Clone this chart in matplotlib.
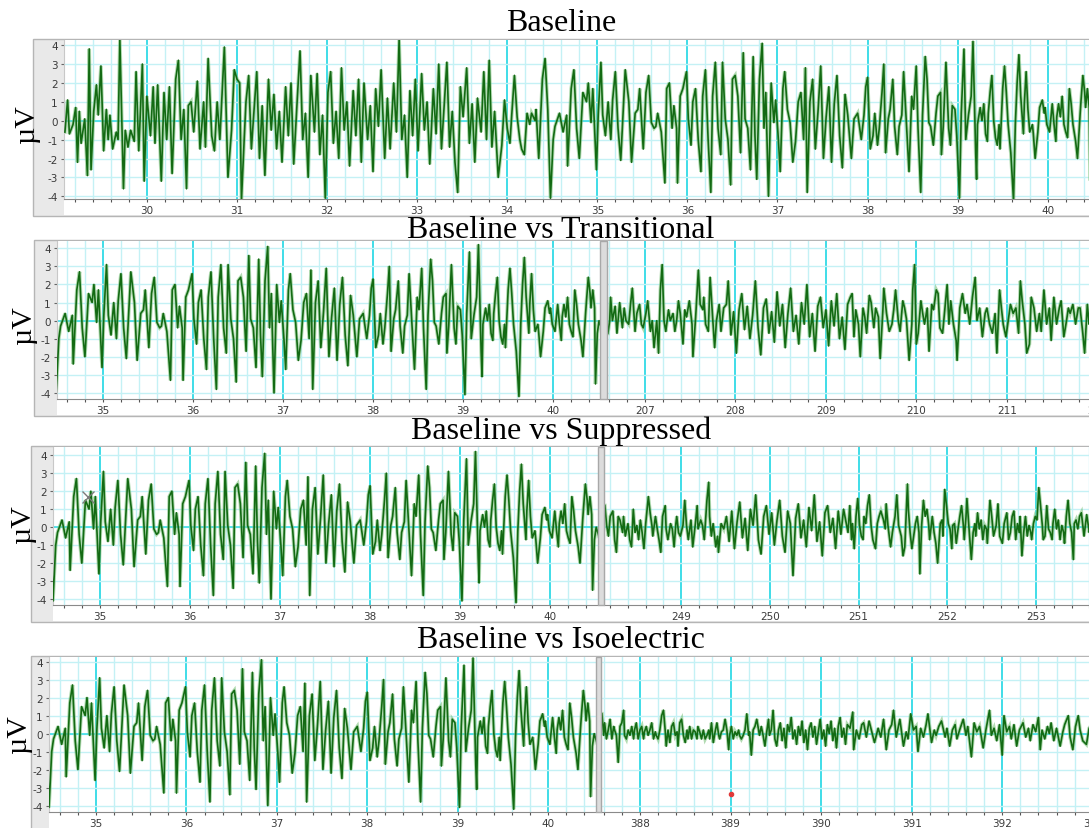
import numpy as np
import matplotlib.pyplot as plt
from matplotlib.patches import Rectangle
from matplotlib.ticker import MultipleLocator

plt.rcParams['axes.unicode_minus'] = False

# EEG traces (time in s, amplitude in uV), read as peaks / troughs
baseline = [
    (29.09, -0.6), (29.12, 1.1), (29.14, -0.7), (29.18, -0.2), (29.21, 0.7), (29.23, -2.2),
    (29.25, 0.5), (29.27, -1.2), (29.31, 0.1), (29.34, -2.9), (29.36, 3.8), (29.38, -2.6),
    (29.41, 0.5), (29.44, 1.9), (29.46, 0.3), (29.49, 2.9), (29.52, -1.6), (29.55, 0.6),
    (29.57, -1.0), (29.59, 0.3), (29.62, -1.5), (29.66, -0.6), (29.68, -1.0), (29.70, 4.3),
    (29.74, -3.6), (29.76, -0.5), (29.79, -1.4), (29.82, -0.5), (29.86, -1.1), (29.88, 2.6),
    (29.91, -1.6), (29.95, 3.0), (29.97, -3.2), (30.00, 1.3), (30.04, -0.8), (30.07, 1.8),
    (30.09, -1.2), (30.12, 1.9), (30.16, -3.2), (30.19, 1.5), (30.22, -1.0), (30.25, 1.8),
    (30.28, -2.8), (30.32, 2.2), (30.35, 3.2), (30.38, -1.0), (30.41, 0.6), (30.44, -3.6),
    (30.46, 0.8), (30.49, 1.0), (30.52, -0.6), (30.56, 2.1), (30.59, -1.5), (30.63, 1.0),
    (30.65, -1.4), (30.68, 3.3), (30.72, -0.8), (30.75, -1.6), (30.78, 1.0), (30.81, -1.0),
    (30.86, 3.9), (30.90, -3.0), (30.94, -0.5), (30.97, 2.7), (31.00, 2.2), (31.03, 2.0),
    (31.05, -4.2), (31.08, -1.0), (31.10, 1.0), (31.13, 2.4), (31.16, -1.5), (31.19, 0.6),
    (31.22, 2.6), (31.25, -2.0), (31.28, 0.8), (31.31, -2.9), (31.35, 2.2), (31.38, -0.5),
    (31.41, 1.4), (31.44, -1.5), (31.47, 0.5), (31.50, -2.2), (31.54, 1.8), (31.57, -0.8),
    (31.60, 2.0), (31.63, -2.3), (31.67, 1.2), (31.70, 3.7), (31.73, -1.0), (31.76, 0.4),
    (31.79, -3.0), (31.82, 2.4), (31.86, -0.6), (31.89, 2.5), (31.92, -1.8), (31.95, 0.3),
    (31.98, -4.1), (32.01, 1.5), (32.04, 2.6), (32.07, -1.2), (32.10, 0.5), (32.13, -2.0),
    (32.16, 2.8), (32.19, -0.5), (32.22, 1.0), (32.25, -2.4), (32.29, 1.6), (32.32, -0.8),
    (32.35, 2.2), (32.38, -2.2), (32.41, 2.0), (32.45, -1.0), (32.48, 0.8), (32.51, -2.7),
    (32.54, 1.7), (32.57, -0.3), (32.60, 2.7), (32.64, -2.0), (32.67, 1.2), (32.70, -1.5),
    (32.74, 2.0), (32.77, -0.6), (32.80, 4.3), (32.83, -1.0), (32.86, 0.3), (32.89, -3.0),
    (32.92, 1.6), (32.95, -0.8), (32.98, 2.2), (33.01, -1.6), (33.05, 2.5), (33.08, -0.5),
    (33.11, 1.0), (33.14, -2.3), (33.18, 1.7), (33.21, -0.7), (33.24, 3.0), (33.27, -1.5),
    (33.30, 0.8), (33.33, 3.1), (33.36, -1.4), (33.39, 0.5), (33.42, -2.2), (33.45, -3.8),
    (33.48, 1.8), (33.51, 0.2), (33.55, 2.8), (33.58, -1.2), (33.61, 0.9), (33.64, -2.2),
    (33.67, 1.2), (33.71, -0.6), (33.74, 2.6), (33.77, -1.0), (33.80, 3.2), (33.83, -1.4),
    (33.86, 0.5), (33.90, -3.0), (33.94, -1.3), (33.97, 1.1), (34.00, -0.4), (34.03, -1.2),
    (34.05, 0.3), (34.08, 2.4), (34.11, 0.2), (34.14, -1.0), (34.16, -1.5), (34.19, -1.8),
    (34.22, 0.4), (34.25, -0.2), (34.27, 0.4), (34.31, 0.0), (34.32, 0.6), (34.35, -2.0),
    (34.39, 2.2), (34.42, 3.3), (34.45, 0.6), (34.48, -4.1), (34.51, -1.0), (34.53, -0.3),
    (34.58, 0.4), (34.62, -0.6), (34.66, 0.3), (34.67, -2.4), (34.71, 1.7), (34.74, 2.7),
    (34.77, -0.4), (34.80, -2.0), (34.84, 1.5), (34.88, 1.0), (34.90, 2.0), (34.93, -0.1),
    (34.95, 1.7), (34.99, -2.6), (35.01, 0.3), (35.04, 3.1), (35.06, 0.3), (35.09, -0.8),
    (35.12, 1.0), (35.15, -1.0), (35.17, 1.1), (35.20, 2.6), (35.23, -0.4), (35.26, -2.1),
    (35.29, 0.8), (35.31, 2.7), (35.35, 1.0), (35.38, -2.2), (35.42, 0.4), (35.45, 0.6),
    (35.47, 1.7), (35.51, -1.5), (35.54, 1.5), (35.57, 2.4), (35.60, -0.1), (35.63, -0.4),
    (35.65, -0.3), (35.67, 0.4), (35.71, -0.6), (35.75, -3.3), (35.77, 1.7), (35.80, 2.0),
    (35.83, -0.4), (35.85, 0.8), (35.88, -0.4), (35.89, -3.3), (35.92, 1.3), (35.95, 1.7),
    (35.99, 2.6), (36.01, 0.1), (36.04, -1.3), (36.06, 1.0), (36.09, 1.7), (36.12, -1.0),
    (36.15, -2.7), (36.17, 1.3), (36.20, 2.7), (36.23, -1.0), (36.26, -3.8), (36.28, 1.3),
    (36.31, 3.1), (36.34, -0.4), (36.37, -1.8), (36.39, 3.1), (36.42, 0.1), (36.45, -1.0),
    (36.48, -3.4), (36.50, 2.2), (36.53, 2.4), (36.56, 1.3), (36.59, -1.7), (36.62, 3.6),
    (36.64, 0.1), (36.67, -0.4), (36.70, -2.6), (36.73, 3.4), (36.75, -0.8), (36.77, -3.1),
    (36.80, 2.2), (36.83, 4.1), (36.85, -0.4), (36.87, 1.5), (36.90, -4.0), (36.93, 2.0),
    (36.96, -0.1), (36.98, 1.1), (37.01, -1.0), (37.03, -2.7), (37.06, 1.7), (37.08, 2.6),
    (37.11, 0.6), (37.14, -0.1), (37.17, -2.2), (37.20, -1.1), (37.23, 1.0), (37.26, 1.5),
    (37.29, -1.0), (37.31, 2.8), (37.33, -3.8), (37.36, 1.0), (37.39, 2.2), (37.42, -1.5),
    (37.45, 0.5), (37.48, 2.9), (37.51, -2.0), (37.54, 0.2), (37.57, 1.8), (37.60, -2.2),
    (37.63, 0.9), (37.66, 2.4), (37.69, -0.8), (37.72, -2.5), (37.75, 1.4), (37.78, 0.3),
    (37.82, -2.0), (37.85, 0.1), (37.89, 0.4), (37.93, -1.0), (37.96, 0.3), (37.98, 1.8),
    (38.00, 2.3), (38.03, -1.5), (38.06, -0.8), (38.08, 0.4), (38.11, -1.3), (38.13, -0.4),
    (38.16, 1.5), (38.18, 3.0), (38.20, -1.7), (38.23, 0.1), (38.25, 0.6), (38.28, 2.2),
    (38.30, -0.3), (38.33, -1.8), (38.35, -0.3), (38.38, 0.3), (38.40, 2.6), (38.43, -0.1),
    (38.46, -2.7), (38.49, 1.3), (38.51, 0.6), (38.54, 2.9), (38.56, -0.4), (38.59, -3.8),
    (38.61, 0.3), (38.64, 3.4), (38.66, 2.2), (38.68, -0.1), (38.70, -0.3), (38.73, -1.3),
    (38.76, 0.4), (38.78, 1.3), (38.81, 1.5), (38.82, -1.8), (38.84, -0.3), (38.87, 3.1),
    (38.90, -0.4), (38.92, -1.3), (38.94, 0.8), (38.97, 0.6), (38.99, -0.8), (39.02, -4.1),
    (39.04, 0.4), (39.07, 3.8), (39.09, -1.0), (39.12, 0.3), (39.15, 1.3), (39.17, 4.2),
    (39.20, -1.7), (39.21, -3.1), (39.22, -0.2), (39.25, 0.7), (39.27, 0.0), (39.29, 0.9),
    (39.31, -0.7), (39.33, -1.1), (39.34, 0.4), (39.36, 1.5), (39.38, 2.4), (39.40, 0.0),
    (39.42, -0.9), (39.44, -1.3), (39.46, -0.2), (39.47, -1.5), (39.50, 1.7), (39.52, 2.9),
    (39.54, 1.5), (39.56, -0.2), (39.59, -1.7), (39.62, -4.2), (39.64, -0.2), (39.66, 2.0),
    (39.68, 3.5), (39.70, 1.3), (39.73, -0.7), (39.74, 0.9), (39.76, 2.6), (39.78, 0.6),
    (39.80, -0.6), (39.83, -0.2), (39.84, -0.7), (39.86, -2.0), (39.89, -0.6), (39.91, 0.7),
    (39.94, 1.1), (39.96, 0.4), (39.97, 0.7), (39.99, -0.2), (40.02, -0.6), (40.05, 0.9),
    (40.07, -0.2), (40.09, -1.1), (40.10, 0.2), (40.12, 0.9), (40.14, 0.2), (40.16, 1.3),
    (40.18, -0.2), (40.20, -0.6), (40.22, -0.9), (40.24, 1.7), (40.26, 0.9), (40.28, -0.2),
    (40.31, -1.1), (40.33, -2.0), (40.36, 0.4), (40.37, 1.1), (40.39, 2.4), (40.41, 1.5),
    (40.42, 0.7), (40.44, 1.7), (40.46, 0.7), (40.47, -3.5), (40.49, -0.7), (40.51, 0.0),
    (40.54, -0.5),
]

transitional = [
    (206.59, -0.7), (206.61, 0.0), (206.62, 1.3), (206.64, 0.0), (206.67, 0.8), (206.69, -0.7),
    (206.71, 0.4), (206.72, 1.0), (206.75, -0.4), (206.77, 0.7), (206.79, 0.0), (206.82, -0.2),
    (206.84, 0.9), (206.86, 1.8), (206.89, -0.6), (206.91, 0.4), (206.94, 0.9), (206.96, -0.2),
    (206.98, -0.4), (207.01, 0.4), (207.03, 1.1), (207.06, -0.6), (207.08, 0.0), (207.10, -1.5),
    (207.13, 0.0), (207.15, -1.8), (207.17, 1.7), (207.19, 3.1), (207.21, 0.0), (207.23, -0.6),
    (207.26, 0.6), (207.28, 0.0), (207.31, 0.4), (207.33, -0.6), (207.35, 0.0), (207.37, 1.1),
    (207.39, 0.4), (207.42, -1.3), (207.44, 0.6), (207.46, 0.2), (207.49, 1.1), (207.52, -0.2),
    (207.53, -2.0), (207.56, 0.2), (207.59, 2.8), (207.61, 0.9), (207.64, 0.6), (207.65, 1.3),
    (207.67, -0.2), (207.70, -0.6), (207.72, 2.4), (207.75, 0.0), (207.77, -1.5), (207.79, 0.0),
    (207.82, 0.9), (207.84, -0.6), (207.87, 0.7), (207.90, 0.9), (207.92, 2.2), (207.95, -0.8),
    (207.98, 0.5), (208.01, -1.8), (208.04, 0.6), (208.07, 1.5), (208.10, -0.5), (208.13, 0.8),
    (208.16, -1.0), (208.19, 0.3), (208.22, 2.2), (208.25, -0.4), (208.28, -1.9), (208.31, 0.7),
    (208.34, 1.2), (208.37, -0.7), (208.40, 0.5), (208.43, -1.2), (208.46, 1.6), (208.49, -0.3),
    (208.52, 0.9), (208.55, -1.5), (208.58, 0.4), (208.61, 1.8), (208.64, -0.6), (208.67, 0.3),
    (208.70, -1.3), (208.73, 1.0), (208.76, -0.2), (208.79, 2.0), (208.82, -0.9), (208.85, 0.4),
    (208.88, -1.7), (208.91, 0.8), (208.94, 1.3), (208.97, -0.4), (209.00, 0.6), (209.03, -1.4),
    (209.06, 1.1), (209.09, -0.3), (209.12, 1.5), (209.15, -1.0), (209.18, 0.2), (209.21, -1.6),
    (209.24, 0.9), (209.27, 1.3), (209.29, 1.5), (209.31, -0.9), (209.33, 0.6), (209.36, -0.2),
    (209.38, -2.0), (209.41, 0.7), (209.43, 0.2), (209.45, -0.7), (209.48, 1.4), (209.50, 1.0),
    (209.53, -0.4), (209.55, 0.7), (209.58, 0.2), (209.60, -2.1), (209.63, 0.6), (209.64, 1.8),
    (209.67, 0.4), (209.70, -0.6), (209.73, -0.2), (209.75, 0.6), (209.77, 1.7), (209.80, 0.0),
    (209.82, -0.6), (209.85, 1.1), (209.87, 0.7), (209.89, 0.1), (209.92, -2.2), (209.95, -0.2),
    (209.96, 1.7), (209.98, 3.1), (210.00, -1.3), (210.02, -0.7), (210.05, 1.1), (210.07, 0.4),
    (210.09, -0.2), (210.12, 0.7), (210.14, -1.7), (210.17, 0.9), (210.19, 0.6), (210.22, 1.7),
    (210.24, 1.5), (210.26, -0.4), (210.29, -0.7), (210.31, 0.4), (210.34, 2.0), (210.36, -0.2),
    (210.38, 1.1), (210.41, -0.2), (210.44, -1.1), (210.45, -2.2), (210.48, 0.7), (210.51, 1.5),
    (210.54, 0.4), (210.56, 0.9), (210.59, -0.2), (210.62, 1.3), (210.65, 2.4), (210.67, 0.0),
    (210.70, 0.7), (210.73, -0.9), (210.76, 0.4), (210.78, 0.7), (210.81, -0.2), (210.84, -0.7),
    (210.87, 0.4), (210.89, -1.8), (210.92, 1.7), (210.94, 0.7), (210.96, -0.2), (210.99, -0.9),
    (211.01, -0.2), (211.04, 0.9), (211.07, 0.4), (211.10, 0.7), (211.13, -0.7), (211.15, 2.2),
    (211.17, 1.1), (211.20, -0.2), (211.22, -1.8), (211.25, -1.3), (211.27, 1.3), (211.30, 0.7),
    (211.33, -0.6), (211.36, 0.4), (211.38, -0.6), (211.41, 1.7), (211.44, -0.2), (211.47, 0.7),
    (211.49, -1.1), (211.52, 1.3), (211.55, -0.2), (211.58, 0.7), (211.60, 1.1), (211.63, -0.9),
    (211.66, 0.0), (211.68, 0.7), (211.70, 0.4), (211.73, 0.9), (211.76, -0.2), (211.79, 0.7),
    (211.81, 0.7), (211.84, -0.7), (211.86, -1.8), (211.89, 0.9), (211.91, -0.2), (211.94, 1.2),
    (211.97, -0.5), (212.00, 0.8), (212.03, -0.4),
]

suppressed = [
    (248.14, 1.2), (248.16, 0.1), (248.18, -0.5), (248.20, 0.6), (248.23, 0.9), (248.25, -0.7),
    (248.27, -1.4), (248.29, 0.6), (248.31, 0.4), (248.34, -0.3), (248.35, 0.6), (248.37, -0.5),
    (248.40, 0.2), (248.42, -0.7), (248.44, -1.1), (248.46, 1.0), (248.48, -0.3), (248.50, 0.1),
    (248.52, -0.7), (248.54, 0.4), (248.56, -0.3), (248.58, -1.2), (248.60, 0.2), (248.63, 1.7),
    (248.65, 0.8), (248.67, 0.1), (248.68, -0.5), (248.71, 0.6), (248.73, -0.1), (248.75, -0.7),
    (248.77, -1.4), (248.79, 0.6), (248.82, 1.2), (248.83, -0.1), (248.85, -0.7), (248.88, 0.2),
    (248.90, -0.1), (248.92, -1.1), (248.94, 0.2), (248.95, 0.6), (248.97, -0.3), (248.99, -0.5),
    (249.02, 0.1), (249.04, 1.5), (249.06, 0.1), (249.08, -0.7), (249.11, 0.4), (249.13, -1.1),
    (249.16, 0.2), (249.18, 1.2), (249.19, -0.1), (249.22, 0.4), (249.24, 0.1), (249.26, -0.7),
    (249.29, 1.5), (249.31, 2.5), (249.32, 0.6), (249.34, -0.5), (249.36, 0.2), (249.39, -1.1),
    (249.41, -0.5), (249.42, -1.4), (249.45, 0.2), (249.48, -0.1), (249.51, 0.6), (249.54, -0.8),
    (249.57, 0.9), (249.60, -1.2), (249.63, 0.3), (249.66, 1.4), (249.69, -0.6), (249.72, 0.5),
    (249.75, -1.3), (249.78, 1.0), (249.81, 0.1), (249.84, 1.8), (249.87, -0.7), (249.90, -1.5),
    (249.93, 0.6), (249.96, 1.2), (249.99, -0.4), (250.02, 0.8), (250.05, -1.0), (250.08, 0.4),
    (250.11, 1.5), (250.14, -0.5), (250.17, -1.4), (250.20, 0.9), (250.23, 0.2), (250.26, -2.7),
    (250.29, 0.5), (250.32, 1.3), (250.35, -0.6), (250.38, 0.4), (250.41, -1.1), (250.44, 1.1),
    (250.47, -0.2), (250.50, 1.8), (250.53, -0.8), (250.56, 0.3), (250.59, -1.6), (250.62, 0.8),
    (250.65, 1.2), (250.68, -0.3), (250.71, 0.5), (250.74, -1.2), (250.77, 0.9), (250.80, -0.4),
    (250.83, 1.0), (250.86, 0.2), (250.88, -0.3), (250.90, 1.2), (250.92, -0.7), (250.93, 0.2),
    (250.95, -1.2), (250.97, 0.6), (250.99, 1.6), (251.01, 0.1), (251.03, -0.5), (251.05, -0.7),
    (251.06, 0.6), (251.08, 0.2), (251.10, 1.2), (251.12, 1.8), (251.14, 0.1), (251.16, -0.7),
    (251.19, -1.2), (251.21, 0.2), (251.23, 0.6), (251.25, 0.9), (251.28, 0.4), (251.30, -0.1),
    (251.31, 1.3), (251.33, 0.1), (251.36, -1.1), (251.38, -0.3), (251.41, 0.6), (251.43, 1.8),
    (251.45, 0.1), (251.48, -0.5), (251.50, -1.6), (251.52, -1.1), (251.55, 2.4), (251.56, 1.0),
    (251.58, -0.3), (251.60, -1.2), (251.62, -0.5), (251.64, 0.2), (251.66, 0.6), (251.68, -0.3),
    (251.69, -2.6), (251.71, 0.1), (251.73, 1.5), (251.75, 0.6), (251.77, 1.0), (251.79, 0.1),
    (251.80, -0.7), (251.83, 0.6), (251.85, -0.3), (251.87, -0.9), (251.89, -2.0), (251.92, 0.2),
    (251.94, 0.4), (251.95, -0.5), (251.97, 2.1), (251.99, 1.2), (252.01, 0.2), (252.03, -0.1),
    (252.05, -1.2), (252.06, 0.1), (252.08, 0.2), (252.10, -0.9), (252.12, -0.1), (252.14, 0.6),
    (252.16, 1.2), (252.18, 0.1), (252.19, -0.7), (252.21, 0.6), (252.22, 1.6), (252.25, -0.5),
    (252.27, -1.8), (252.29, -0.3), (252.31, 0.2), (252.32, -0.5), (252.34, 0.8), (252.36, -0.1),
    (252.38, 0.4), (252.40, -0.7), (252.42, 0.1), (252.44, -0.1), (252.45, -0.9), (252.48, 1.5),
    (252.50, 0.6), (252.52, -0.5), (252.55, 0.1), (252.57, 1.3), (252.59, -0.5), (252.62, -0.9),
    (252.64, 0.2), (252.67, 0.8), (252.69, -0.7), (252.71, -0.3), (252.73, 0.6), (252.75, 0.9),
    (252.77, -0.7), (252.79, 0.2), (252.81, -0.3), (252.82, 0.6), (252.84, -1.6), (252.86, -0.3),
    (252.88, 0.6), (252.90, -0.5), (252.92, 0.1), (252.94, -0.3), (252.95, -0.7), (252.97, 0.2),
    (252.99, 0.6), (253.01, 0.4), (253.03, 2.2), (253.05, 1.2), (253.07, 0.1), (253.08, -0.7),
    (253.10, -0.5), (253.12, 1.2), (253.14, -0.1), (253.16, -0.3), (253.18, -0.7), (253.19, 0.2),
    (253.21, 1.0), (253.23, -0.1), (253.25, 0.4), (253.27, -0.7), (253.29, 0.1), (253.31, -0.3),
    (253.32, -0.9), (253.34, 0.6), (253.36, 1.5), (253.38, 0.2), (253.40, -0.3), (253.42, -1.8),
    (253.43, 0.2), (253.45, 0.4), (253.47, -0.1), (253.49, 0.6), (253.51, 0.8), (253.54, -0.5),
    (253.57, 0.7), (253.60, -0.3), (253.63, 0.5),
]

isoelectric = [
    (387.58, 1.1), (387.60, -0.1), (387.61, 0.6), (387.63, -0.3), (387.65, 0.2), (387.67, 0.8),
    (387.69, -0.3), (387.71, 0.4), (387.72, 0.2), (387.74, -0.1), (387.76, -1.6), (387.78, 0.4),
    (387.80, 0.6), (387.82, 1.3), (387.83, -0.1), (387.85, -0.3), (387.87, 0.2), (387.89, -0.1),
    (387.91, 0.4), (387.93, -0.3), (387.94, 0.2), (387.96, 0.6), (387.98, -0.3), (388.00, 0.2),
    (388.02, 0.4), (388.04, -0.3), (388.05, 0.1), (388.07, 0.4), (388.09, -0.1), (388.11, 0.2),
    (388.13, 0.6), (388.15, -0.3), (388.17, 0.1), (388.18, -0.1), (388.20, -0.3), (388.22, 0.2),
    (388.24, 1.0), (388.26, 1.3), (388.28, 0.1), (388.29, -0.7), (388.31, 0.2), (388.33, -0.5),
    (388.35, 0.4), (388.37, 0.6), (388.39, -0.1), (388.41, 0.1), (388.42, -0.7), (388.44, 0.6),
    (388.46, 0.8), (388.48, -0.1), (388.50, -0.5), (388.52, 0.2), (388.53, -0.3), (388.55, 0.4),
    (388.57, -0.3), (388.59, 0.2), (388.61, 0.1), (388.63, -0.3), (388.64, 0.4), (388.66, 0.1),
    (388.68, -0.3), (388.70, 0.2), (388.72, -0.3), (388.74, -0.1), (388.76, 0.2), (388.77, -0.3),
    (388.79, 0.6), (388.81, -0.5), (388.83, 0.1), (388.85, 0.6), (388.87, -0.1), (388.88, -0.3),
    (388.90, 0.1), (388.92, 0.2), (388.94, 0.8), (388.96, 0.2), (388.98, -0.9), (388.99, -0.1),
    (389.01, 0.4), (389.03, -0.3), (389.05, 0.1), (389.07, -0.1), (389.09, 0.2), (389.10, -0.1),
    (389.12, -0.3), (389.14, -0.1), (389.16, 0.2), (389.18, 1.1), (389.20, -0.1), (389.21, 0.1),
    (389.23, -1.2), (389.25, 0.2), (389.27, 0.4), (389.29, 0.8), (389.31, 0.2), (389.32, -0.1),
    (389.34, 0.4), (389.36, -0.1), (389.38, -0.7), (389.40, 0.1), (389.42, 0.8), (389.43, -0.1),
    (389.45, 0.2), (389.47, 1.3), (389.49, -0.3), (389.51, -0.7), (389.53, 0.2), (389.55, 0.6),
    (389.57, -0.4), (389.59, 0.3), (389.61, -0.8), (389.63, 0.5), (389.65, 0.1), (389.67, 0.9),
    (389.69, -0.3), (389.71, 0.2), (389.73, -0.6), (389.75, 0.4), (389.77, -0.1), (389.79, 0.7),
    (389.81, -0.5), (389.83, 0.2), (389.85, -0.9), (389.87, 0.3), (389.89, 0.6), (389.91, -0.2),
    (389.93, 0.4), (389.95, -0.6), (389.97, 0.1), (389.99, 0.8), (390.01, -0.3), (390.03, 0.2),
    (390.05, -0.7), (390.07, 0.5), (390.09, 0.0), (390.11, 0.7), (390.13, -0.4), (390.15, 0.3),
    (390.17, -0.8), (390.19, 0.4), (390.21, 0.9), (390.23, -0.2), (390.25, 0.3), (390.27, -0.6),
    (390.29, 0.5), (390.32, 0.3), (390.35, 1.2), (390.36, -0.9), (390.39, 0.2), (390.42, -0.3),
    (390.45, 0.5), (390.47, 0.6), (390.50, -0.2), (390.53, 0.7), (390.56, 0.1), (390.59, -0.5),
    (390.63, 0.3), (390.66, -0.2), (390.69, 0.8), (390.72, -0.9), (390.75, 0.2), (390.78, 0.5),
    (390.80, 1.3), (390.83, -0.2), (390.85, 0.3), (390.87, 0.8), (390.91, -0.7), (390.94, 0.1),
    (390.96, -0.3), (390.99, 1.1), (391.02, 0.2), (391.05, 0.4), (391.07, -1.0), (391.10, 0.3),
    (391.13, -0.2), (391.16, 0.5), (391.18, 1.1), (391.22, -0.5), (391.25, 0.2), (391.27, -0.1),
    (391.30, 0.4), (391.33, 0.7), (391.37, -0.2), (391.39, 0.3), (391.42, -0.7), (391.45, 0.2),
    (391.48, 0.5), (391.50, -0.3), (391.53, 0.2), (391.57, 0.8), (391.60, -0.1), (391.62, 0.4),
    (391.66, -1.3), (391.69, 0.6), (391.72, 0.1), (391.75, 0.4), (391.77, -0.2), (391.79, -0.8),
    (391.82, 0.2), (391.86, 1.3), (391.88, -0.1), (391.91, 0.3), (391.94, -0.4), (391.97, 0.5),
    (392.00, -1.2), (392.02, 1.0), (392.05, 0.1), (392.08, 0.4), (392.10, -0.3), (392.13, 0.5),
    (392.16, -0.7), (392.19, 0.2), (392.21, 0.4), (392.23, 0.6), (392.26, -0.2), (392.29, 0.3),
    (392.31, -0.4), (392.34, 0.5), (392.37, 0.1), (392.40, 0.9), (392.42, -0.9), (392.44, 0.2),
    (392.47, -0.3), (392.50, 0.4), (392.52, 0.0), (392.54, 0.6), (392.57, -0.4), (392.60, 0.3),
    (392.64, -0.7), (392.67, 0.1), (392.69, 0.5), (392.73, 1.0), (392.75, -0.2), (392.78, -0.9),
    (392.81, 0.4), (392.84, 1.0), (392.86, 0.2), (392.89, -0.4), (392.93, -0.6), (392.96, 0.3),
    (392.99, 0.5), (393.02, -0.3), (393.05, 0.4), (393.08, -0.2),
]

titles = ['Baseline', 'Baseline vs Transitional', 'Baseline vs Suppressed', 'Baseline vs Isoelectric']

W, H = 1089, 829
fig = plt.figure(figsize=(W / 100, H / 100), dpi=100)

GREEN = '#136a13'
CYAN = '#3fdde8'
LIGHT = '#c4f1f5'


def fbox(x0, y0, x1, y1):
    return [x0 / W, 1 - y1 / H, (x1 - x0) / W, (y1 - y0) / H]


def frame(x0, top, axis_y, bottom, strip_x):
    # grey border + grey strip for the y labels, white strip for the x labels
    fig.add_artist(Rectangle((x0 / W, 1 - bottom / H), (1100 - x0) / W, (bottom - top) / H,
                             transform=fig.transFigure, facecolor='#e9e9e9',
                             edgecolor='#b5b5b5', lw=1.0, zorder=-2))
    fig.add_artist(Rectangle((strip_x / W, 1 - (bottom - 1) / H), (1100 - strip_x) / W,
                             (bottom - 1 - axis_y) / H, transform=fig.transFigure,
                             facecolor='white', edgecolor='none', zorder=-1))


def trace(box, xlim, ylim, data, ylabels):
    ax = fig.add_axes(fbox(*box))
    t = [p[0] for p in data]
    v = [p[1] for p in data]
    ax.set_xlim(*xlim)
    ax.set_ylim(*ylim)
    ax.set_facecolor('white')
    ax.xaxis.set_major_locator(MultipleLocator(1))
    ax.xaxis.set_minor_locator(MultipleLocator(0.2))
    ax.yaxis.set_major_locator(MultipleLocator(1))
    ax.grid(which='minor', axis='x', color=LIGHT, lw=1.0)
    ax.grid(which='major', axis='x', color=CYAN, lw=1.4)
    ax.grid(which='major', axis='y', color=LIGHT, lw=1.0)
    ax.set_axisbelow(True)
    ax.axhline(0, color=CYAN, lw=1.2, zorder=1)
    # pale halo under the dark trace gives the filled look of the lobes
    ax.plot(t, v, color='#7fc47f', lw=2.6, alpha=0.6, solid_joinstyle='miter', zorder=2)
    ax.plot(t, v, color=GREEN, lw=1.2, zorder=3)
    for s in ('top', 'right'):
        ax.spines[s].set_visible(False)
    ax.spines['left'].set_color('#c8c8c8')
    ax.spines['bottom'].set_color('#8a8a8a')
    ax.tick_params(axis='x', which='both', direction='out', length=2.5, width=0.8,
                   color='#555555', labelsize=7.5, labelcolor='#3a3a3a', pad=1.5)
    ax.tick_params(axis='y', direction='out', length=2, width=0.8, color='#666666',
                   labelsize=7.5, labelcolor='#3a3a3a', pad=2.5)
    ax.set_xticklabels([f'{x:g}' for x in ax.get_xticks()])
    if not ylabels:
        ax.tick_params(axis='y', left=False, labelleft=False)
    return ax


def split(x0, x1, top, axis_y):
    fig.add_artist(Rectangle((x0 / W, 1 - axis_y / H), (x1 - x0) / W, (axis_y - top) / H,
                             transform=fig.transFigure, facecolor='#dcdcdc',
                             edgecolor='#a8a8a8', lw=1.0, zorder=4))


# panel 1: baseline only
frame(33, 40, 200, 217, 64)
trace((64, 41, 1100, 200), (29.08, 40.58), (-4.14, 4.27), baseline, True)

# panel 2: baseline | transitional
frame(34, 241, 400, 417, 57)
trace((57, 242, 600, 400), (34.49, 40.52), (-4.33, 4.4), baseline, True)
trace((607, 242, 1100, 400), (206.58, 212.03), (-4.33, 4.4), transitional, False)
split(600, 607, 242, 400)

# panel 3: baseline | suppressed
frame(31, 447, 606, 623, 53)
ax3 = trace((53, 448, 598, 606), (34.48, 40.53), (-4.32, 4.45), baseline, True)
trace((604, 448, 1100, 606), (248.13, 253.72), (-4.32, 4.45), suppressed, False)
split(598, 604, 448, 606)
ax3.plot([34.87], [1.7], marker='x', color='#7a7a7a', ms=9, mew=1.0, zorder=5)

# panel 4: baseline | isoelectric
frame(31, 657, 813, 835, 49)
trace((49, 658, 596, 813), (34.48, 40.53), (-4.35, 4.25), baseline, True)
ax4 = trace((601, 658, 1100, 813), (387.57, 393.08), (-4.35, 4.25), isoelectric, False)
split(596, 601, 658, 813)
ax4.plot([389.0], [-3.35], 'o', color='#e03a3a', ms=3, zorder=5)

# titles and unit labels
for txt, y in zip(titles, [31, 238, 439, 648]):
    fig.text(561 / W, 1 - y / H, txt, ha='center', va='baseline', fontsize=23,
             family='Liberation Serif', zorder=10)
for x, y in [(27, 125), (24, 326), (23, 525), (19, 735)]:
    fig.text(x / W, 1 - y / H, 'µV', ha='center', va='center', rotation=90,
             fontsize=21.5, family='Liberation Serif', zorder=10)

fig.savefig('out.png', dpi=100)
